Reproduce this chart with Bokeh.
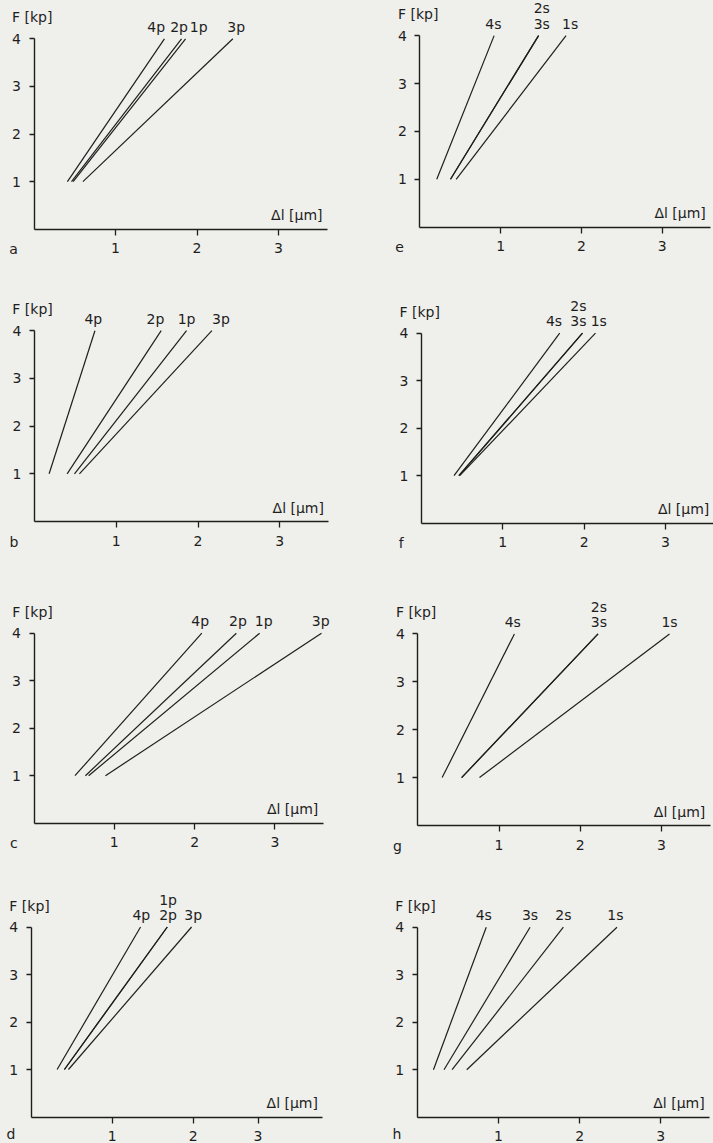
from bokeh.plotting import figure
from bokeh.models import Range1d, FixedTicker, ColumnDataSource
from bokeh.layouts import column, row
from bokeh.embed import file_html
from bokeh.resources import INLINE
from bokeh.core.properties import value

FONT = "DejaVu Sans"
INK = "#1e1e1e"
PAPER = "#efefeb"

# Each load line runs from F = 1 kp to F = 4 kp
force_kp = [1, 4]
y_ticks = [1, 2, 3, 4]

# ---- p-series (panels a-d): elongation Δl [µm] at F = 1 and F = 4 kp ----
a_names = ["1p", "2p", "3p", "4p"]
a_dl_low = [0.48, 0.46, 0.60, 0.41]
a_dl_high = [1.86, 1.81, 2.44, 1.60]

b_names = ["1p", "2p", "3p", "4p"]
b_dl_low = [0.49, 0.40, 0.55, 0.18]
b_dl_high = [1.86, 1.55, 2.17, 0.74]

c_names = ["1p", "2p", "3p", "4p"]
c_dl_low = [0.68, 0.64, 0.89, 0.51]
c_dl_high = [2.81, 2.52, 3.58, 2.09]

d_names = ["1p", "2p", "3p", "4p"]
d_dl_low = [0.41, 0.41, 0.46, 0.32]
d_dl_high = [1.68, 1.68, 1.98, 1.35]

# ---- s-series (panels e-h) ----
e_names = ["1s", "2s", "3s", "4s"]
e_dl_low = [0.45, 0.38, 0.38, 0.21]
e_dl_high = [1.81, 1.47, 1.47, 0.92]

f_names = ["1s", "2s", "3s", "4s"]
f_dl_low = [0.47, 0.46, 0.46, 0.40]
f_dl_high = [2.14, 1.98, 1.98, 1.70]

g_names = ["1s", "2s", "3s", "4s"]
g_dl_low = [0.76, 0.54, 0.54, 0.30]
g_dl_high = [3.10, 2.22, 2.22, 1.19]

h_names = ["1s", "2s", "3s", "4s"]
h_dl_low = [0.61, 0.43, 0.33, 0.20]
h_dl_high = [2.46, 1.80, 1.39, 0.85]

# ---- curve labels: text, x position (µm) and stacking row above the curves ----
a_lab = (["4p", "2p", "1p", "3p"], [1.50, 1.78, 2.02, 2.48], [0, 0, 0, 0])
b_lab = (["4p", "2p", "1p", "3p"], [0.72, 1.48, 1.86, 2.28], [0, 0, 0, 0])
c_lab = (["4p", "2p", "1p", "3p"], [2.07, 2.54, 2.86, 3.57], [0, 0, 0, 0])
d_lab = (["4p", "2p", "1p", "3p"], [1.36, 1.69, 1.69, 2.00], [0, 0, 1, 0])
e_lab = (["4s", "3s", "2s", "1s"], [0.91, 1.51, 1.51, 1.86], [0, 0, 1, 0])
f_lab = (["4s", "3s", "2s", "1s"], [1.63, 1.93, 1.93, 2.18], [0, 0, 1, 0])
g_lab = (["4s", "3s", "2s", "1s"], [1.17, 2.23, 2.23, 3.10], [0, 0, 1, 0])
h_lab = (["4s", "3s", "2s", "1s"], [0.82, 1.39, 1.80, 2.44], [0, 0, 0, 0])

x_ticks = [1, 2, 3]
x_tick_labels = ["1", "2", "3"]
d_x_ticks = [1, 2, 2.8]   # the third tick of panel d sits short of 3

# ---- layout: figure size, origin pixel (from top-left) and pixels per unit ----
COL_W = [356, 357]
ROW_H = [290, 290, 290, 273]
GEOM = {
    "a": (0, 0, 33.5, 228.7, 81.5, 47.6),
    "b": (0, 1, 33.9, 231.0, 81.8, 47.7),
    "c": (0, 2, 33.5, 242.7, 80.3, 47.5),
    "d": (0, 3, 30.7, 246.5, 81.0, 47.5),
    "e": (1, 0, 63.3, 226.7, 80.8, 47.9),
    "f": (1, 1, 65.0, 232.7, 81.3, 47.5),
    "g": (1, 2, 61.3, 245.0, 81.2, 47.9),
    "h": (1, 3, 60.7, 246.7, 81.2, 47.5),
}
X_AXIS_END = 3.6
LABEL_ROW_Y = [4.25, 4.57]
LETTER_Y = [-0.42, -0.42, -0.42, -0.35]
TXT = "14px"


def panel(letter, names, lo, hi, lab, ticks=x_ticks):
    col, rw, ox, oy, sx, sy = GEOM[letter]
    W, H = COL_W[col], ROW_H[rw]
    p = figure(width=W, height=H, output_backend="svg", toolbar_location=None,
               x_range=Range1d(-ox / sx, (W - ox) / sx),
               y_range=Range1d(-(H - oy) / sy, oy / sy),
               min_border=0, min_border_left=0, min_border_right=0,
               min_border_top=0, min_border_bottom=0)
    p.background_fill_color = PAPER
    p.border_fill_color = PAPER
    p.outline_line_color = None
    p.grid.visible = False

    for ax in (p.xaxis[0], p.yaxis[0]):
        ax.fixed_location = 0
        ax.axis_line_color = INK
        ax.axis_line_width = 1.4
        ax.major_tick_line_color = INK
        ax.major_tick_line_width = 1.3
        ax.minor_tick_line_color = None
        ax.major_label_text_font = FONT
        ax.major_label_text_font_size = TXT
        ax.major_label_text_color = INK
    xa, ya = p.xaxis[0], p.yaxis[0]
    xa.bounds = (0, X_AXIS_END)
    xa.ticker = FixedTicker(ticks=ticks)
    xa.major_label_overrides = {t: s for t, s in zip(ticks, x_tick_labels)}
    xa.major_tick_out = 6
    xa.major_tick_in = 0
    xa.major_label_standoff = 8
    ya.bounds = (0, 4)
    ya.ticker = FixedTicker(ticks=y_ticks)
    ya.major_tick_out = 5
    ya.major_tick_in = 0
    ya.major_label_standoff = 8

    src = ColumnDataSource(dict(
        xs=[[l, h] for l, h in zip(lo, hi)],
        ys=[list(force_kp) for _ in names],
        name=names,
    ))
    p.multi_line(xs="xs", ys="ys", source=src, line_color=INK, line_width=1.2)

    txt, lx, lrow = lab
    p.text(x=lx, y=[LABEL_ROW_Y[r] for r in lrow], text=txt,
           text_font=value(FONT), text_font_size=TXT, text_color=INK,
           text_align="center", text_baseline="middle")

    p.text(x=[-0.27], y=[4.45], text=["F [kp]"], text_font=value(FONT),
           text_font_size=TXT, text_color=INK, text_align="left",
           text_baseline="middle")
    p.text(x=[3.54], y=[0.29], text=["Δl [μm]"], text_font=value(FONT),
           text_font_size=TXT, text_color=INK, text_align="right",
           text_baseline="middle")
    p.text(x=[-0.25], y=[LETTER_Y[rw]], text=[letter], text_font=value(FONT),
           text_font_size=TXT, text_color=INK, text_align="center",
           text_baseline="middle")
    return p


pa = panel("a", a_names, a_dl_low, a_dl_high, a_lab)
pb = panel("b", b_names, b_dl_low, b_dl_high, b_lab)
pc = panel("c", c_names, c_dl_low, c_dl_high, c_lab)
pd = panel("d", d_names, d_dl_low, d_dl_high, d_lab, ticks=d_x_ticks)
pe = panel("e", e_names, e_dl_low, e_dl_high, e_lab)
pf = panel("f", f_names, f_dl_low, f_dl_high, f_lab)
pg = panel("g", g_names, g_dl_low, g_dl_high, g_lab)
ph = panel("h", h_names, h_dl_low, h_dl_high, h_lab)

rows = [row(pa, pe, spacing=0), row(pb, pf, spacing=0),
        row(pc, pg, spacing=0), row(pd, ph, spacing=0)]
for r in rows:
    r.styles = {"background-color": PAPER}
layout = column(*rows, spacing=0)
layout.styles = {"background-color": PAPER}

open("out.html", "w").write(file_html(layout, INLINE))
